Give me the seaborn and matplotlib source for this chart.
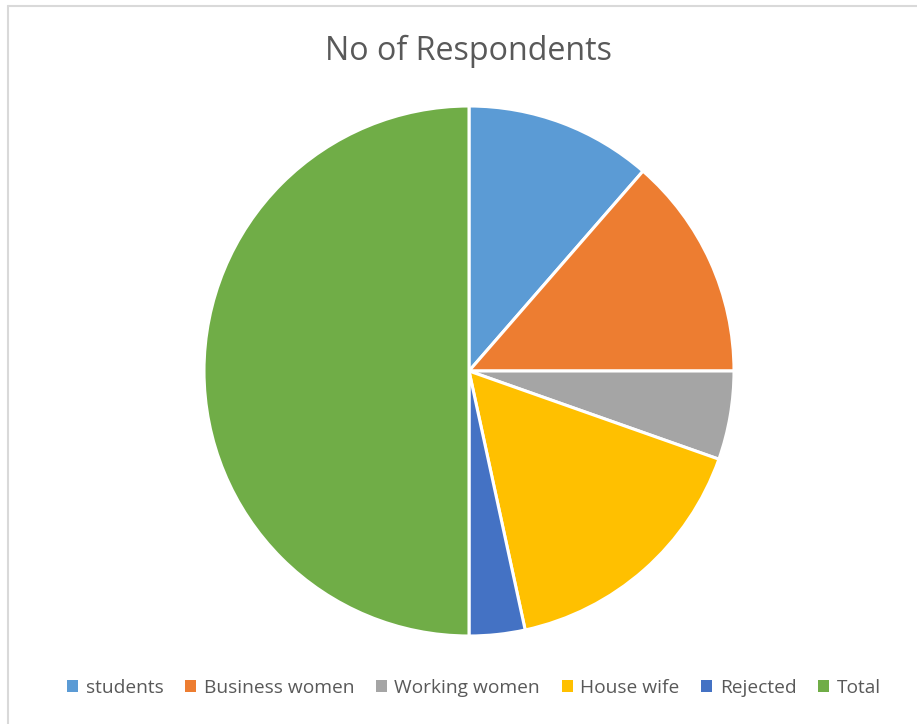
import matplotlib
matplotlib.use("Agg")
import matplotlib.pyplot as plt
import seaborn as sns
from matplotlib.lines import Line2D
from matplotlib.patches import Patch

categories = ["students", "Business women", "Working women", "House wife", "Rejected", "Total"]
values = [57, 68, 27, 81, 17, 250]
colors = ["#5B9BD5", "#ED7D31", "#A5A5A5", "#FFC000", "#4472C4", "#70AD47"]
title = "No of Respondents"

sns.set_theme(style="white")
plt.rcParams['font.family'] = ['Open Sans', 'DejaVu Sans']

fig = plt.figure(figsize=(9.17, 7.24), dpi=100)
fig.patch.set_facecolor("white")

# partial chart frame (left and top edges visible)
fig.add_artist(Line2D([8/917, 8/917], [0, 1 - 6/724], transform=fig.transFigure, color="#D9D9D9", lw=1.5))
fig.add_artist(Line2D([8/917, 1], [1 - 6/724, 1 - 6/724], transform=fig.transFigure, color="#D9D9D9", lw=1.5))

ax = fig.add_axes([204/917, (724-636)/724, 530/917, 530/724])
ax.pie(values, colors=colors, startangle=90, counterclock=False,
       wedgeprops=dict(edgecolor="white", linewidth=2.2))
ax.set_xlim(-1, 1)
ax.set_ylim(-1, 1)
ax.set_aspect("equal")
ax.axis("off")

fig.text(469/917, 1 - 51/724, title, ha="center", va="center", fontsize=23.2, color="#595959")

handles = [Patch(facecolor=c, edgecolor="none") for c in colors]
leg = fig.legend(handles, categories, loc="center", bbox_to_anchor=(474/917, 1 - 688/724),
                 ncol=6, frameon=False, fontsize=13.8, handlelength=0.55, handleheight=0.55,
                 handletextpad=0.4, columnspacing=1.15, labelcolor="#595959")

fig.savefig("out.png", dpi=100, facecolor="white")
